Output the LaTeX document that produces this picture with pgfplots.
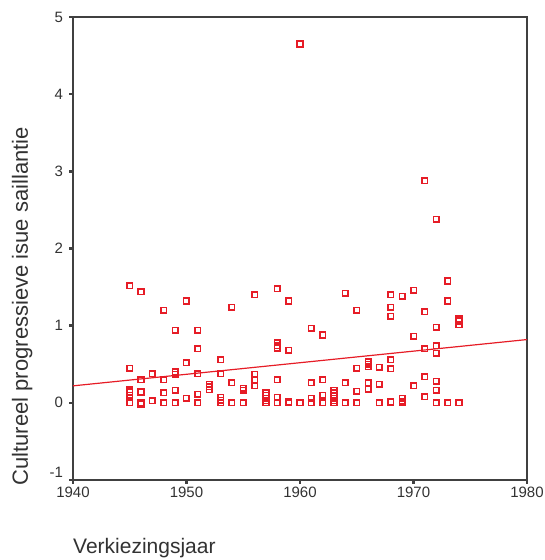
\documentclass[border=0pt]{standalone}
\usepackage{pgfplots}
\usepackage{pgfplotstable}
\pgfplotsset{compat=1.18}
\usepackage{fontspec}
\setmainfont{Liberation Sans}
\definecolor{ptred}{RGB}{230,28,38}
\definecolor{axgray}{RGB}{64,64,64}
\definecolor{txtgray}{RGB}{50,50,50}
\pgfplotstableread{
year val
1945 1.52
1945 0.45
1945 0.17
1945 0.14
1945 0.10
1945 0
1946 1.44
1946 0.30
1946 0.14
1946 0
1946 -0.02
1947 0.38
1947 0.03
1948 1.20
1948 0.30
1948 0.13
1948 0
1949 0.94
1949 0.40
1949 0.37
1949 0.16
1949 0
1950 1.32
1950 0.52
1950 0.06
1951 0.94
1951 0.70
1951 0.38
1951 0.11
1951 0
1952 0.24
1952 0.21
1952 0.17
1953 0.56
1953 0.38
1953 0.07
1953 0.035
1953 0
1954 1.24
1954 0.26
1954 0
1955 0.19
1955 0.16
1955 0
1956 1.40
1956 0.37
1956 0.29
1956 0.22
1957 0.13
1957 0.10
1957 0.06
1957 0.03
1957 0
1958 1.48
1958 0.78
1958 0.74
1958 0.71
1958 0.30
1958 0.07
1958 0
1959 1.32
1959 0.68
1959 0.01
1959 0
1960 4.65
1960 0
1961 0.965
1961 0.26
1961 0.06
1961 0
1962 0.88
1962 0.30
1962 0.10
1962 0
1963 0.16
1963 0.13
1963 0.10
1963 0.06
1963 0.03
1963 0
1964 1.42
1964 0.26
1964 0
1965 1.20
1965 0.45
1965 0.15
1965 0
1966 0.53
1966 0.50
1966 0.47
1966 0.26
1966 0.18
1967 0.46
1967 0.24
1967 0
1968 1.40
1968 1.24
1968 1.12
1968 0.56
1968 0.44
1968 0.01
1969 1.38
1969 0.06
1969 0.02
1969 0
1970 1.46
1970 0.86
1970 0.22
1971 2.88
1971 1.18
1971 0.70
1971 0.34
1971 0.08
1972 2.38
1972 0.98
1972 0.74
1972 0.64
1972 0.28
1972 0.16
1972 0
1973 1.58
1973 1.32
1973 0
1974 1.09
1974 1.06
1974 1.01
1974 0
}\pts
\begin{document}
\begin{tikzpicture}
\useasboundingbox (-73pt,-80pt) rectangle (472pt,480pt);
\begin{axis}[
  at={(0pt,0pt)}, anchor=south west,
  scale only axis, width=454pt, height=463pt,
  xmin=1940, xmax=1980, ymin=-1, ymax=5,
  xtick={1940,1950,1960,1970,1980},
  ytick={0,1,2,3,4,5},
  extra y ticks={-1},
  extra y tick style={yticklabel style={yshift=8pt}},
  tick pos=left, tick align=outside,
  major tick length=3.5pt,
  every tick/.style={line width=2.6pt, axgray},
  axis line style={line width=1.6pt, axgray},
  /pgf/number format/assume math mode=true,
  x tick label style={/pgf/number format/1000 sep={}, font=\fontsize{15}{18}\selectfont, text=txtgray},
  y tick label style={font=\fontsize{15}{18}\selectfont, text=txtgray, xshift=-3pt},
  xlabel={Verkiezingsjaar},
  ylabel={Cultureel progressieve isue saillantie},
  every axis x label/.style={at={(axis description cs:0,-0.147)}, anchor=west, inner sep=0pt, font=\fontsize{21}{25}\selectfont, text=txtgray},
  every axis y label/.style={at={(axis description cs:-0.112,-0.012)}, rotate=90, anchor=west, inner sep=0pt, font=\fontsize{22}{26}\selectfont, text=txtgray},
  clip=false,
]
\addplot[ptred, only marks, mark=square, mark size=2.8pt, mark options={solid, draw=ptred, line width=1.6pt}] table[x=year, y=val] {\pts};
\addplot[ptred, line width=1.2pt] coordinates {(1940,0.22) (1980,0.82)};
\end{axis}
\end{tikzpicture}
\end{document}
